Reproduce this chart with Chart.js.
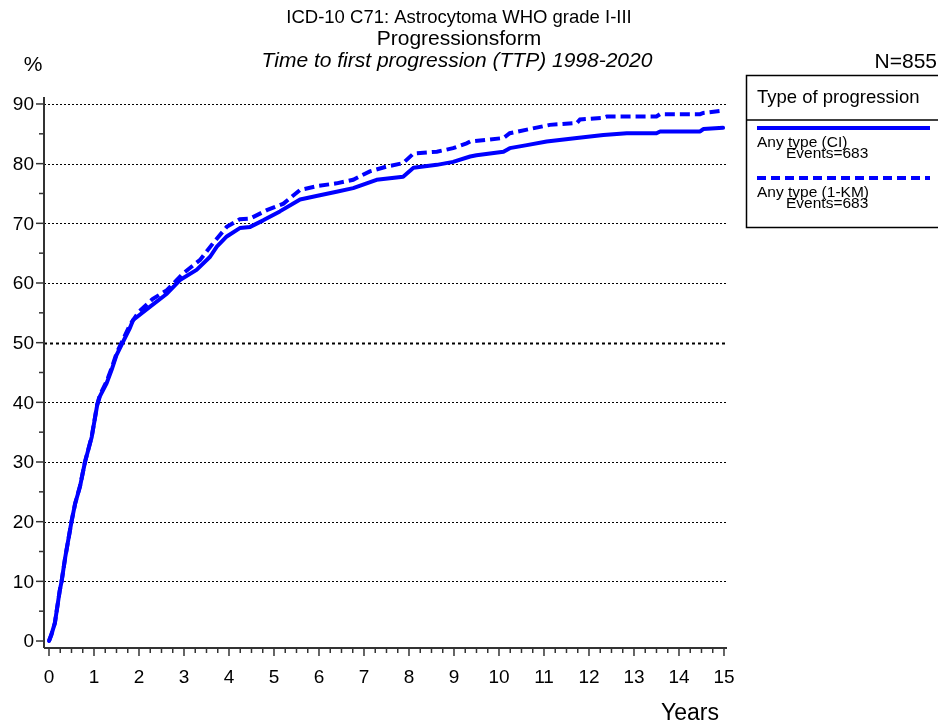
<!DOCTYPE html>
<html>
<head>
<meta charset="utf-8">
<script src="https://cdn.jsdelivr.net/npm/chart.js@4.4.1/dist/chart.umd.min.js"></script>
<style>
  html, body { margin: 0; padding: 0; background: #fff; }
  #wrap { width: 938px; height: 726px; position: relative; }
</style>
</head>
<body>
<div id="wrap"><canvas id="myChart" width="938" height="726"></canvas></div>
<script>
const BLUE = '#0000ff';
const FONT = '"Liberation Sans", Arial, sans-serif';

// years since diagnosis, cumulative % with progression
const ciYears = [0, 0.05, 0.13, 0.24, 0.28, 0.36, 0.5, 0.58, 0.69, 0.8, 0.95, 1.07, 1.13, 1.28, 1.39, 1.5, 1.65, 1.8, 1.87, 2.24, 2.62, 2.91, 3.28, 3.58, 3.73, 3.95, 4.24, 4.47, 4.76, 5.13, 5.58, 6.02, 6.39, 6.76, 7.28, 7.87, 8.1, 8.62, 8.98, 9.36, 9.5, 10.1, 10.24, 10.62, 11.06, 11.73, 12.32, 12.84, 13.5, 13.58, 14.47, 14.54, 14.98];
const ciValues = [0, 1, 3, 8.5, 10, 14, 20, 23, 25.9, 30, 34.2, 39.5, 41, 43.2, 45.4, 47.9, 50.2, 52.5, 53.8, 56, 58.2, 60.5, 62.2, 64.4, 66.1, 67.8, 69.2, 69.4, 70.5, 72, 74, 74.7, 75.3, 75.9, 77.3, 77.8, 79.3, 79.8, 80.3, 81.2, 81.4, 82, 82.6, 83.1, 83.7, 84.3, 84.8, 85.1, 85.1, 85.4, 85.4, 85.8, 86];

const kmYears = [0, 0.05, 0.13, 0.24, 0.28, 0.36, 0.5, 0.58, 0.69, 0.8, 0.95, 1.07, 1.13, 1.28, 1.39, 1.5, 1.65, 1.8, 2.0, 2.3, 2.62, 2.98, 3.36, 3.65, 3.95, 4.24, 4.47, 4.84, 5.21, 5.58, 6.0, 6.39, 6.76, 7.13, 7.5, 7.87, 8.1, 8.62, 8.98, 9.28, 9.36, 10.1, 10.24, 10.62, 11.13, 11.73, 11.8, 12.32, 12.4, 13.5, 13.58, 14.47, 14.54, 14.98];
const kmValues = [0, 1, 3, 8.5, 10, 14, 20, 23, 26, 30, 34.3, 39.6, 41.2, 43.5, 45.7, 48.2, 50.6, 53, 55.2, 57.3, 58.8, 61.6, 63.9, 66.7, 69.4, 70.7, 70.8, 72.2, 73.3, 75.6, 76.3, 76.7, 77.3, 78.7, 79.5, 80.1, 81.7, 82, 82.6, 83.4, 83.7, 84.3, 85.1, 85.7, 86.5, 86.8, 87.4, 87.7, 87.9, 87.9, 88.3, 88.3, 88.5, 88.9];

// axis ticks
const yTicks = [0, 10, 20, 30, 40, 50, 60, 70, 80, 90];
const yMinor = [5, 15, 25, 35, 45, 55, 65, 75, 85];
const xTicks = [0, 1, 2, 3, 4, 5, 6, 7, 8, 9, 10, 11, 12, 13, 14, 15];
const xMinor = [];
for (let i = 0; i < 15; i++) xMinor.push(i + 0.25, i + 0.5, i + 0.75);

const titleLines = ['ICD-10 C71: Astrocytoma WHO grade I-III', 'Progressionsform', 'Time to first progression (TTP) 1998-2020'];
const legendTitle = 'Type of progression';
const seriesNames = ['Any type (CI)', 'Any type (1-KM)'];
const eventCounts = [683, 683];
const totalN = 855;

function toPoints(xs, ys) {
    return xs.map((x, i) => ({ x, y: ys[i] }));
}

// gridlines, axes, ticks and labels
const axesPlugin = {
    id: 'axesPlugin',
    beforeDatasetsDraw(chart) {
        const ctx = chart.ctx;
        const xs = chart.scales.x, ys = chart.scales.y;
        const area = chart.chartArea;
        ctx.save();
        // dotted gridlines
        yTicks.forEach(v => {
            if (v === 0) return;
            const py = Math.round(ys.getPixelForValue(v)) + 0.5;
            ctx.beginPath();
            ctx.strokeStyle = '#000';
            ctx.lineWidth = v === 50 ? 2 : 1;
            ctx.setLineDash(v === 50 ? [3, 3] : [2, 2]);
            ctx.moveTo(area.left, py);
            ctx.lineTo(area.right, py);
            ctx.stroke();
        });
        ctx.setLineDash([]);
        ctx.strokeStyle = '#333';
        ctx.lineWidth = 2;
        // y axis
        ctx.beginPath();
        ctx.moveTo(area.left, area.top);
        ctx.lineTo(area.left, area.bottom);
        ctx.stroke();
        // x axis
        ctx.beginPath();
        ctx.moveTo(area.left, area.bottom);
        ctx.lineTo(area.right, area.bottom);
        ctx.stroke();
        // y ticks
        ctx.lineWidth = 1.5;
        yTicks.forEach(v => {
            const py = ys.getPixelForValue(v);
            ctx.beginPath(); ctx.moveTo(area.left - 8, py); ctx.lineTo(area.left, py); ctx.stroke();
        });
        yMinor.forEach(v => {
            const py = ys.getPixelForValue(v);
            ctx.beginPath(); ctx.moveTo(area.left - 5, py); ctx.lineTo(area.left, py); ctx.stroke();
        });
        // x ticks
        xTicks.forEach(v => {
            const px = xs.getPixelForValue(v);
            ctx.beginPath(); ctx.moveTo(px, area.bottom); ctx.lineTo(px, area.bottom + 8); ctx.stroke();
        });
        xMinor.forEach(v => {
            const px = xs.getPixelForValue(v);
            ctx.beginPath(); ctx.moveTo(px, area.bottom); ctx.lineTo(px, area.bottom + 5); ctx.stroke();
        });
        // labels
        ctx.fillStyle = '#000';
        ctx.font = '19px ' + FONT;
        ctx.textAlign = 'right';
        ctx.textBaseline = 'middle';
        yTicks.forEach(v => {
            ctx.fillText(String(v), area.left - 10, ys.getPixelForValue(v) + 1);
        });
        ctx.textAlign = 'center';
        xTicks.forEach(v => {
            ctx.fillText(String(v), xs.getPixelForValue(v), 678);
        });
        ctx.font = '23px ' + FONT;
        ctx.fillText('Years', 690, 714);
        ctx.font = '21px ' + FONT;
        ctx.fillText('%', 33, 65);
        ctx.restore();
    },
    afterDraw(chart) {
        const ctx = chart.ctx;
        ctx.save();
        ctx.fillStyle = '#000';
        ctx.textAlign = 'center';
        ctx.textBaseline = 'middle';
        ctx.font = '18.5px ' + FONT;
        ctx.fillText(titleLines[0], 459, 18);
        ctx.font = '21px ' + FONT;
        ctx.fillText(titleLines[1], 459, 39);
        ctx.font = 'italic 21px ' + FONT;
        ctx.fillText(titleLines[2], 457, 61);
        ctx.textAlign = 'right';
        ctx.font = '21px ' + FONT;
        ctx.fillText('N=' + totalN, 937, 62);

        // legend box
        ctx.strokeStyle = '#000';
        ctx.lineWidth = 1.5;
        ctx.strokeRect(746.5, 75.5, 200, 152);
        ctx.beginPath();
        ctx.moveTo(746, 120); ctx.lineTo(938, 120);
        ctx.stroke();
        ctx.textAlign = 'left';
        ctx.font = '18.5px ' + FONT;
        ctx.fillText(legendTitle, 757, 98);

        const rows = [128, 178];
        rows.forEach((ly, i) => {
            ctx.beginPath();
            ctx.strokeStyle = BLUE;
            ctx.lineWidth = 4;
            ctx.setLineDash(i === 1 ? [9, 5] : []);
            ctx.moveTo(757, ly); ctx.lineTo(930, ly);
            ctx.stroke();
            ctx.setLineDash([]);
            ctx.font = '15.5px ' + FONT;
            ctx.fillText(seriesNames[i], 757, ly + 15);
            ctx.fillText('Events=' + eventCounts[i], 786, ly + 26);
        });
        ctx.restore();
    }
};

var ctx = document.getElementById('myChart').getContext('2d');
var chart = new Chart(ctx, {
    type: 'line',
    data: {
        datasets: [
            {
                label: seriesNames[0],
                data: toPoints(ciYears, ciValues),
                borderColor: BLUE,
                borderWidth: 4,
                pointRadius: 0,
                tension: 0,
                borderCapStyle: 'round',
                borderJoinStyle: 'round',
                fill: false
            },
            {
                label: seriesNames[1],
                data: toPoints(kmYears, kmValues),
                borderColor: BLUE,
                borderWidth: 4,
                borderDash: [10, 5],
                pointRadius: 0,
                tension: 0,
                borderCapStyle: 'butt',
                fill: false
            }
        ]
    },
    options: {
        responsive: false,
        animation: false,
        layout: { padding: { left: 44, right: 211, top: 97, bottom: 78 } },
        plugins: {
            legend: { display: false },
            tooltip: { enabled: false },
            title: { display: false }
        },
        scales: {
            x: { type: 'linear', min: -0.111, max: 15.067, display: false },
            y: { type: 'linear', min: -1.17, max: 91.17, display: false }
        }
    },
    plugins: [axesPlugin]
});
</script>
</body>
</html>
